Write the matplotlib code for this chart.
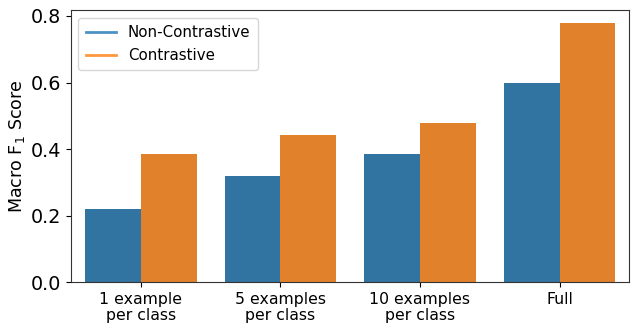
import numpy as np
import matplotlib
matplotlib.use("Agg")
import matplotlib.pyplot as plt
from matplotlib.lines import Line2D

# data
categories = ["1 example\nper class", "5 examples\nper class", "10 examples\nper class", "Full"]
non_contrastive = [0.220, 0.319, 0.385, 0.598]
contrastive = [0.385, 0.442, 0.478, 0.778]
series_names = ["Non-Contrastive", "Contrastive"]

bar_colors = ["#3274a1", "#e1812c"]
legend_colors = ["#1f77b4", "#ff7f0e"]

fig = plt.figure(figsize=(6.39, 3.31), dpi=100)
ax = fig.add_axes([0.111, 0.147, 0.874, 0.822])

x = np.arange(len(categories))
w = 0.4
ax.bar(x - w / 2, non_contrastive, width=w, color=bar_colors[0])
ax.bar(x + w / 2, contrastive, width=w, color=bar_colors[1])

ax.set_xlim(-0.5, len(categories) - 0.5)
ax.set_ylim(0, 0.817)
ax.set_xticks(x)
ax.set_xticklabels(categories, fontsize=11.3, linespacing=1.1)
ax.set_yticks([0.0, 0.2, 0.4, 0.6, 0.8])
ax.tick_params(axis="y", labelsize=13.8)
ax.set_ylabel(r"Macro F$_1$ Score", fontsize=12.6, labelpad=3)

for s in ax.spines.values():
    s.set_color("#333333")

# legend uses plain lines, not the bar patches
handles = [Line2D([0], [0], color=c, lw=2, alpha=0.8) for c in legend_colors]
ax.legend(handles, series_names, loc="upper left", fontsize=10.8,
          handlelength=2.0, borderpad=0.5)

fig.savefig("out.png", dpi=100)
